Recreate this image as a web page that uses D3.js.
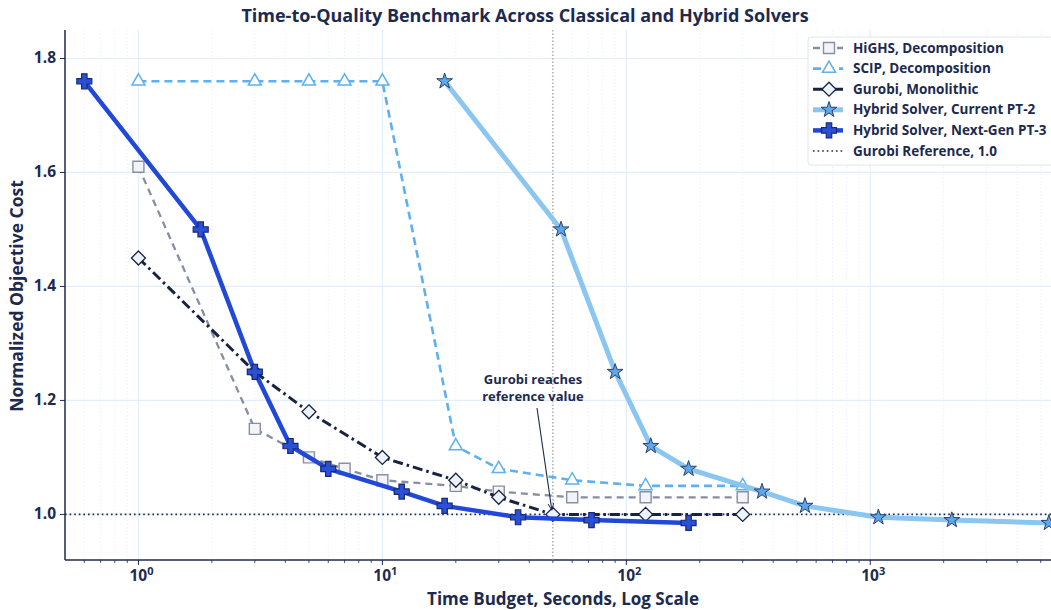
<!DOCTYPE html>
<html>
<head>
<meta charset="utf-8">
<script src="https://cdn.jsdelivr.net/npm/d3@7.9.0/dist/d3.min.js"></script>
<style>
  html, body { margin: 0; padding: 0; background: #fff; }
  svg { display: block; font-family: 'Open Sans', Lato, sans-serif; }
</style>
</head>
<body>
<svg id="chart" width="1051" height="610"></svg>
<script>
const highsX = [1, 3, 5, 7, 10, 20, 30, 60, 120, 300];
const highsY = [1.61, 1.15, 1.10, 1.08, 1.06, 1.05, 1.04, 1.03, 1.03, 1.03];

const scipX = [1, 3, 5, 7, 10, 20, 30, 60, 120, 300];
const scipY = [1.76, 1.76, 1.76, 1.76, 1.76, 1.12, 1.08, 1.06, 1.05, 1.05];

const gurobiX = [1, 3, 5, 10, 20, 30, 50, 120, 300];
const gurobiY = [1.45, 1.25, 1.18, 1.10, 1.06, 1.03, 1.00, 1.00, 1.00];

const pt2X = [18, 54, 90, 126, 180, 360, 540, 1080, 2160, 5400];
const pt2Y = [1.76, 1.50, 1.25, 1.12, 1.08, 1.04, 1.015, 0.995, 0.99, 0.985];

const pt3X = [0.6, 1.8, 3, 4.2, 6, 12, 18, 36, 72, 180];
const pt3Y = [1.76, 1.50, 1.25, 1.12, 1.08, 1.04, 1.015, 0.995, 0.99, 0.985];

const yTicks = [1.0, 1.2, 1.4, 1.6, 1.8];
const xTicks = [1, 10, 100, 1000];
const referenceValue = 1.0;
const gurobiHitTime = 50;

const INK = '#1c2a4f';
const BOLD = 700;

const svg = d3.select('#chart');

const x = d3.scaleLog().domain([0.5, 5940]).range([65, 1059]);
const y = d3.scaleLinear().domain([0.92, 1.85]).range([560, 30]);

const defs = svg.append('defs');
defs.append('clipPath').attr('id', 'plot-clip')
  .append('rect').attr('x', 65).attr('y', 20).attr('width', 1000).attr('height', 545);

defs.append('marker')
  .attr('id', 'arrow')
  .attr('viewBox', '0 0 10 10')
  .attr('refX', 10).attr('refY', 5)
  .attr('markerWidth', 7).attr('markerHeight', 7)
  .attr('markerUnits', 'userSpaceOnUse')
  .attr('orient', 'auto')
  .append('path')
  .attr('d', 'M0,1 L10,5 L0,9')
  .attr('fill', 'none')
  .attr('stroke', INK)
  .attr('stroke-width', 1.3);

// minor vertical grid
const minorX = [];
for (let e = -1; e <= 3; e++) {
  for (let m = 2; m <= 9; m++) {
    const v = m * Math.pow(10, e);
    if (v > 0.5 && v < 5940) minorX.push(v);
  }
}

const grid = svg.append('g');
grid.selectAll('line.minor').data(minorX).join('line')
  .attr('x1', (d) => x(d)).attr('x2', (d) => x(d))
  .attr('y1', 30).attr('y2', 560)
  .attr('stroke', '#e9eef6').attr('stroke-width', 0.8).attr('stroke-dasharray', '1.5,2');

grid.selectAll('line.vmajor').data(xTicks).join('line')
  .attr('x1', (d) => x(d)).attr('x2', (d) => x(d))
  .attr('y1', 30).attr('y2', 560)
  .attr('stroke', '#e3eefb').attr('stroke-width', 1.2);

grid.selectAll('line.hmajor').data(yTicks).join('line')
  .attr('x1', 65).attr('x2', 1051)
  .attr('y1', (d) => y(d)).attr('y2', (d) => y(d))
  .attr('stroke', '#e3eefb').attr('stroke-width', 1.2);

// axes
const xAxis = svg.append('g').attr('transform', 'translate(0,560)');
xAxis.append('line').attr('x1', 65).attr('x2', 1051).attr('y1', 0).attr('y2', 0)
  .attr('stroke', INK).attr('stroke-width', 1.5);
xAxis.selectAll('line.minor').data(minorX).join('line')
  .attr('x1', (d) => x(d)).attr('x2', (d) => x(d)).attr('y1', 0).attr('y2', 3)
  .attr('stroke', INK).attr('stroke-width', 0.8);
xAxis.selectAll('line.major').data(xTicks).join('line')
  .attr('x1', (d) => x(d)).attr('x2', (d) => x(d)).attr('y1', 0).attr('y2', 5)
  .attr('stroke', INK).attr('stroke-width', 1);
const xLabels = xAxis.selectAll('text').data(xTicks).join('text')
  .attr('x', (d) => x(d) + 3).attr('y', 21)
  .attr('text-anchor', 'middle')
  .attr('font-size', 15.5).attr('font-weight', BOLD).attr('fill', INK);
xLabels.append('tspan').text('10');
xLabels.append('tspan').attr('dy', -6).attr('font-size', 11)
  .text((d) => Math.round(Math.log10(d)));

const yAxis = svg.append('g');
yAxis.append('line').attr('x1', 65).attr('x2', 65).attr('y1', 30).attr('y2', 560)
  .attr('stroke', INK).attr('stroke-width', 1.5);
yAxis.selectAll('line.tick').data(yTicks).join('line')
  .attr('x1', 60).attr('x2', 65).attr('y1', (d) => y(d)).attr('y2', (d) => y(d))
  .attr('stroke', INK).attr('stroke-width', 1);
yAxis.selectAll('text').data(yTicks).join('text')
  .attr('x', 56).attr('y', (d) => y(d) + 5)
  .attr('text-anchor', 'end')
  .attr('font-size', 15.5).attr('font-weight', BOLD).attr('fill', INK)
  .text((d) => d.toFixed(1));

// reference lines
const plot = svg.append('g').attr('clip-path', 'url(#plot-clip)');
plot.append('line')
  .attr('x1', x(gurobiHitTime)).attr('x2', x(gurobiHitTime))
  .attr('y1', 30).attr('y2', 560)
  .attr('stroke', '#9aa0ae').attr('stroke-width', 1.2).attr('stroke-dasharray', '1.5,2');
plot.append('line')
  .attr('x1', 65).attr('x2', 1051)
  .attr('y1', y(referenceValue)).attr('y2', y(referenceValue))
  .attr('stroke', INK).attr('stroke-width', 1.6).attr('stroke-dasharray', '1.6,3');

// symbols
const plusPath = (s) => {
  const a = s / 2, b = s / 5.5;
  return `M${-b},${-a}H${b}V${-b}H${a}V${b}H${b}V${a}H${-b}V${b}H${-a}V${-b}H${-b}Z`;
};
const symbolPath = (kind, size) => {
  if (kind === 'square') return d3.symbol(d3.symbolSquare, size * size)();
  if (kind === 'triangle') return d3.symbol(d3.symbolTriangle, size * size * 0.433)();
  if (kind === 'diamond') return `M0,${-size / 2}L${size / 2},0L0,${size / 2}L${-size / 2},0Z`;
  if (kind === 'star') return d3.symbol(d3.symbolStar, size * size * 0.3)();
  return plusPath(size);
};

const series = [
  { name: 'HiGHS, Decomposition', xs: highsX, ys: highsY, color: '#878ea3', width: 2.3, dash: '7,5',
    marker: 'square', size: 11, mFill: '#f3f4f8', mStroke: '#8a90a3', mWidth: 1.4 },
  { name: 'SCIP, Decomposition', xs: scipX, ys: scipY, color: '#5eb0ef', width: 2.6, dash: '8,5',
    marker: 'triangle', size: 13, mFill: '#ffffff', mStroke: '#5eb0ef', mWidth: 1.5 },
  { name: 'Gurobi, Monolithic', xs: gurobiX, ys: gurobiY, color: '#172341', width: 3, dash: '10,4,2.5,4',
    marker: 'diamond', size: 14, mFill: '#edf3fc', mStroke: '#172341', mWidth: 1.3 },
  { name: 'Hybrid Solver, Current PT-2', xs: pt2X, ys: pt2Y, color: '#8bc6f1', width: 5, dash: null,
    marker: 'star', size: 16, mFill: '#5ba7e8', mStroke: '#2e3f6e', mWidth: 1 },
  { name: 'Hybrid Solver, Next-Gen PT-3', xs: pt3X, ys: pt3Y, color: '#2148d6', width: 4.5, dash: null,
    marker: 'plus', size: 15, mFill: '#2a50d8', mStroke: '#1a2a6e', mWidth: 1.2 },
];

const line = d3.line().x((d) => x(d[0])).y((d) => y(d[1]));

series.forEach((s) => {
  const pts = s.xs.map((v, i) => [v, s.ys[i]]);
  const g = plot.append('g');
  g.append('path')
    .attr('d', line(pts))
    .attr('fill', 'none')
    .attr('stroke', s.color)
    .attr('stroke-width', s.width)
    .attr('stroke-dasharray', s.dash)
    .attr('stroke-linejoin', 'round');
  g.selectAll('path.m').data(pts).join('path')
    .attr('class', 'm')
    .attr('transform', (d) => `translate(${x(d[0])},${y(d[1])})`)
    .attr('d', symbolPath(s.marker, s.size))
    .attr('fill', s.mFill)
    .attr('stroke', s.mStroke)
    .attr('stroke-width', s.mWidth)
    .attr('stroke-linejoin', 'miter');
});

// annotation
const note = svg.append('g');
['Gurobi reaches', 'reference value'].forEach((t, i) => {
  note.append('text')
    .attr('x', 533).attr('y', 384 + i * 16.5)
    .attr('text-anchor', 'middle')
    .attr('font-size', 13).attr('font-weight', BOLD).attr('fill', INK)
    .text(t);
});
note.append('line')
  .attr('x1', 537).attr('y1', 408)
  .attr('x2', x(gurobiHitTime) - 1).attr('y2', y(referenceValue) - 4)
  .attr('stroke', INK).attr('stroke-width', 1.1)
  .attr('marker-end', 'url(#arrow)');

// title and labels
svg.append('text')
  .attr('x', 525).attr('y', 22)
  .attr('text-anchor', 'middle')
  .attr('font-size', 18).attr('font-weight', BOLD).attr('fill', INK)
  .text('Time-to-Quality Benchmark Across Classical and Hybrid Solvers');

svg.append('text')
  .attr('x', 563).attr('y', 605)
  .attr('text-anchor', 'middle')
  .attr('font-size', 17).attr('font-weight', BOLD).attr('fill', INK)
  .text('Time Budget, Seconds, Log Scale');

svg.append('text')
  .attr('transform', 'translate(23,296) rotate(-90)')
  .attr('text-anchor', 'middle')
  .attr('font-size', 17.5).attr('font-weight', BOLD).attr('fill', INK)
  .text('Normalized Objective Cost');

// legend
const legend = svg.append('g').attr('transform', 'translate(808,37)');
legend.append('rect')
  .attr('width', 246).attr('height', 128).attr('rx', 3)
  .attr('fill', '#ffffff').attr('fill-opacity', 0.92)
  .attr('stroke', '#dfe5ef').attr('stroke-width', 1);

const legendItems = series.concat([{ name: 'Gurobi Reference, 1.0', color: INK, width: 1.6, dash: '1.6,3', marker: null }]);
const rowY = (i) => 11 + i * 20.6;
legendItems.forEach((s, i) => {
  const row = legend.append('g').attr('transform', `translate(0,${rowY(i)})`);
  row.append('line')
    .attr('x1', 5).attr('x2', 35).attr('y1', 0).attr('y2', 0)
    .attr('stroke', s.color).attr('stroke-width', s.width)
    .attr('stroke-dasharray', s.dash);
  if (s.marker) {
    row.append('path')
      .attr('transform', 'translate(21,0)')
      .attr('d', symbolPath(s.marker, s.size))
      .attr('fill', s.mFill).attr('stroke', s.mStroke).attr('stroke-width', s.mWidth);
  }
  row.append('text')
    .attr('x', 45).attr('y', 4.5)
    .attr('font-size', 13.5).attr('font-weight', BOLD).attr('fill', INK)
    .text(s.name);
});
</script>
</body>
</html>
